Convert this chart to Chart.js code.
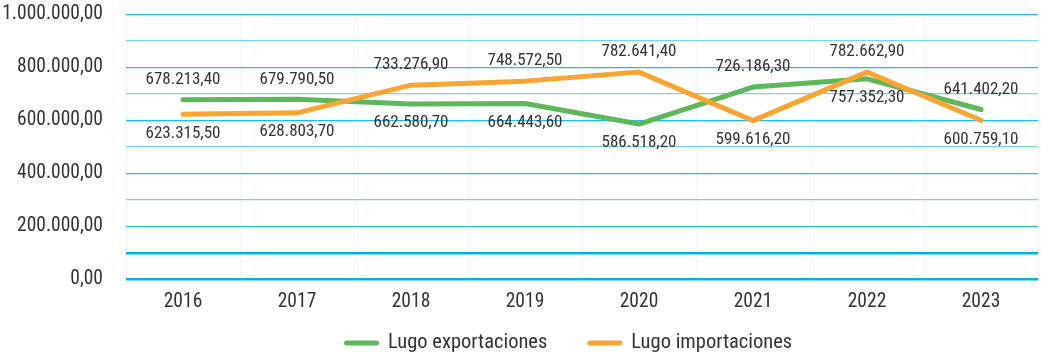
<!DOCTYPE html>
<html>
<head>
<meta charset="utf-8">
<script src="https://cdn.jsdelivr.net/npm/chart.js@4"></script>
<style>
  html, body { margin: 0; padding: 0; background: #fff; }
  #wrap { width: 1041px; height: 358px; position: relative; }
</style>
</head>
<body>
<div id="wrap"><canvas id="lugoChart"></canvas></div>
<script>
const years = ['2016', '2017', '2018', '2019', '2020', '2021', '2022', '2023'];
const exportaciones = [678213.40, 679790.50, 662580.70, 664443.60, 586518.20, 726186.30, 757352.30, 641402.20];
const importaciones = [623315.50, 628803.70, 733276.90, 748572.50, 782641.40, 599616.20, 782662.90, 600759.10];
const yTicks = [0, 200000, 400000, 600000, 800000, 1000000];

const FONT = "'Roboto Condensed', 'Open Sans Condensed', sans-serif";
const TEXT = '#333333';

function formatEs(v, decimals) {
  return v.toLocaleString('de-DE', { minimumFractionDigits: decimals, maximumFractionDigits: decimals });
}

// value labels: the higher series of each year goes above, the lower below
const pointLabels = {
  id: 'pointLabels',
  afterDatasetsDraw(chart) {
    const { ctx } = chart;
    ctx.save();
    ctx.font = '17px ' + FONT;
    ctx.fillStyle = TEXT;
    ctx.textAlign = 'center';
    ctx.textBaseline = 'middle';
    const series = [exportaciones, importaciones];
    series.forEach((values, di) => {
      const meta = chart.getDatasetMeta(di);
      const other = series[1 - di];
      values.forEach((v, i) => {
        const pt = meta.data[i];
        const dy = v >= other[i] ? -20 : 19;
        ctx.fillText(formatEs(v, 2), pt.x, pt.y + dy);
      });
    });
    ctx.restore();
  },
};

// legend under the axis: short rounded line + series name, with wide gaps
const lineLegend = {
  id: 'lineLegend',
  afterDraw(chart) {
    const { ctx } = chart;
    const y = 343;
    let x = 346.5;
    ctx.save();
    ctx.font = '20.5px ' + FONT;
    ctx.textBaseline = 'middle';
    ctx.textAlign = 'left';
    chart.data.datasets.forEach((ds) => {
      ctx.strokeStyle = ds.borderColor;
      ctx.lineWidth = 5;
      ctx.lineCap = 'round';
      ctx.beginPath();
      ctx.moveTo(x, y);
      ctx.lineTo(x + 30, y);
      ctx.stroke();
      ctx.fillStyle = TEXT;
      ctx.fillText(ds.label, x + 41.5, y);
      x += 41.5 + ctx.measureText(ds.label).width + 42.5;
    });
    ctx.restore();
  },
};

function draw() {
  new Chart(document.getElementById('lugoChart'), {
    type: 'line',
    data: {
      labels: years,
      datasets: [
        {
          label: 'Lugo exportaciones',
          data: exportaciones,
          borderColor: '#5cb85a',
          backgroundColor: '#5cb85a',
          borderWidth: 5,
          borderCapStyle: 'round',
          borderJoinStyle: 'round',
          pointRadius: 0,
          tension: 0,
          order: 2,
        },
        {
          label: 'Lugo importaciones',
          data: importaciones,
          borderColor: '#f9a534',
          backgroundColor: '#f9a534',
          borderWidth: 5,
          borderCapStyle: 'round',
          borderJoinStyle: 'round',
          pointRadius: 0,
          tension: 0,
          order: 1,
        },
      ],
    },
    options: {
      responsive: true,
      maintainAspectRatio: false,
      animation: false,
      layout: { padding: { top: 0, right: 3, bottom: 30.5, left: 0 } },
      plugins: {
        tooltip: { enabled: false },
        legend: { display: false },
      },
      scales: {
        x: {
          offset: true,
          afterFit(scale) { scale.height = 48; },
          grid: { offset: true, color: '#eef6f9', lineWidth: 1, drawTicks: false },
          border: { display: false },
          ticks: { color: TEXT, padding: 11, font: { family: FONT, size: 19.5 } },
        },
        y: {
          min: 0,
          max: 1000000,
          afterFit(scale) {
            scale.width = 126;
            scale.paddingTop = 14.5;
            scale.paddingBottom = 0;
          },
          ticks: {
            stepSize: 100000,
            autoSkip: false,
            padding: 23,
            color: TEXT,
            font: { family: FONT, size: 19.5 },
            callback: (v) => (yTicks.includes(v) ? formatEs(v, 2) : ''),
          },
          grid: {
            drawTicks: false,
            color: (c) => {
              const v = c.tick.value;
              if (v <= 100000) return '#00b4e0';
              return yTicks.includes(v) ? '#1cbde6' : '#74d4ef';
            },
            lineWidth: (c) => (c.tick.value <= 100000 ? 2.5 : 1.2),
          },
          border: { display: false },
        },
      },
    },
    plugins: [pointLabels, lineLegend],
  });
}

document.fonts.load("20px 'Roboto Condensed'").finally(draw);
</script>
</body>
</html>
